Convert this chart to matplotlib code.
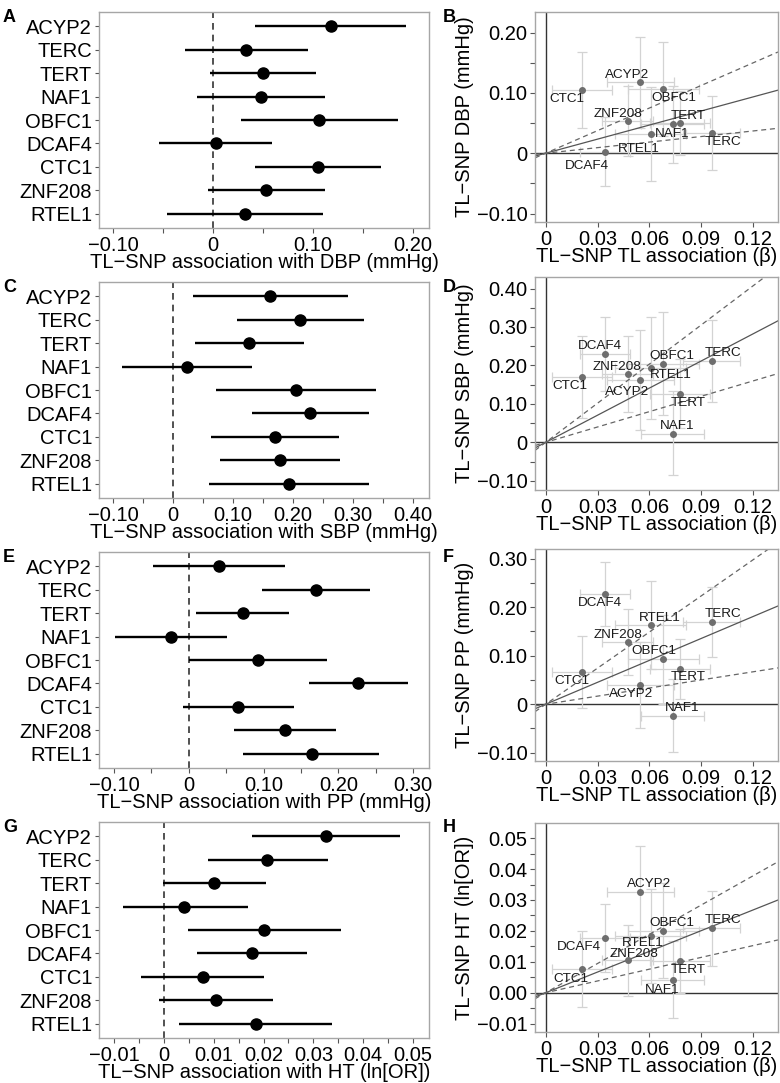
import matplotlib
matplotlib.use("Agg")
import matplotlib.pyplot as plt
import numpy as np

plt.rcParams['font.family'] = ['Liberation Sans', 'DejaVu Sans']

genes = ["ACYP2", "TERC", "TERT", "NAF1", "OBFC1", "DCAF4", "CTC1", "ZNF208", "RTEL1"]

# TL-SNP association with telomere length (beta) and CI half-width
tl_beta = [0.0548, 0.0960, 0.0776, 0.0735, 0.0681, 0.0343, 0.0209, 0.0474, 0.0608]
tl_half = [0.0195, 0.0163, 0.0175, 0.0182, 0.0207, 0.0145, 0.0175, 0.0150, 0.0207]

# DBP
dbp_est = [0.1177, 0.0333, 0.0497, 0.0483, 0.1060, 0.0027, 0.1050, 0.0533, 0.0317]
dbp_lo = [0.0423, -0.0283, -0.0033, -0.0157, 0.0277, -0.0540, 0.0417, -0.0050, -0.0460]
dbp_hi = [0.1930, 0.0950, 0.1027, 0.1120, 0.1850, 0.0593, 0.1680, 0.1117, 0.1100]
# SBP
sbp_est = [0.1622, 0.2117, 0.1267, 0.0228, 0.2044, 0.2289, 0.1706, 0.1789, 0.1933]
sbp_lo = [0.0322, 0.1056, 0.0361, -0.0861, 0.0711, 0.1322, 0.0622, 0.0778, 0.0600]
sbp_hi = [0.2917, 0.3178, 0.2178, 0.1322, 0.3389, 0.3267, 0.2767, 0.2778, 0.3267]
# PP
pp_est = [0.0400, 0.1702, 0.0724, -0.0240, 0.0924, 0.2267, 0.0658, 0.1289, 0.1640]
pp_lo = [-0.0484, 0.0978, 0.0102, -0.0987, 0.0000, 0.1604, -0.0084, 0.0600, 0.0724]
pp_hi = [0.1284, 0.2422, 0.1338, 0.0511, 0.1849, 0.2930, 0.1400, 0.1969, 0.2547]
# HT
ht_est = [0.03253, 0.0208, 0.01013, 0.00413, 0.0200, 0.01767, 0.0078, 0.01053, 0.0184]
ht_lo = [0.01767, 0.0088, -0.0002, -0.00813, 0.00487, 0.00667, -0.00467, -0.0010, 0.00313]
ht_hi = [0.0474, 0.03287, 0.02047, 0.0168, 0.03547, 0.0288, 0.0200, 0.0220, 0.03367]

# MR slopes: estimate, lower, upper
dbp_slope = [0.777, 0.307, 1.247]
sbp_slope = [2.35, 1.33, 3.39]
pp_slope = [1.506, 0.557, 2.48]
ht_slope = [0.223, 0.127, 0.315]

forest_ticks = {
    "DBP": ([-0.10, 0, 0.10, 0.20], ["\u22120.10", "0", "0.10", "0.20"]),
    "SBP": ([-0.10, 0, 0.10, 0.20, 0.30, 0.40], ["\u22120.10", "0", "0.10", "0.20", "0.30", "0.40"]),
    "PP": ([-0.10, 0, 0.10, 0.20, 0.30], ["\u22120.10", "0", "0.10", "0.20", "0.30"]),
    "HT": ([-0.01, 0, 0.01, 0.02, 0.03, 0.04, 0.05], ["\u22120.01", "0", "0.01", "0.02", "0.03", "0.04", "0.05"]),
}
scatter_yticks = {
    "DBP": ([-0.10, 0, 0.10, 0.20], ["\u22120.10", "0", "0.10", "0.20"]),
    "SBP": ([-0.10, 0, 0.10, 0.20, 0.30, 0.40], ["\u22120.10", "0", "0.10", "0.20", "0.30", "0.40"]),
    "PP": ([-0.10, 0, 0.10, 0.20, 0.30], ["\u22120.10", "0", "0.10", "0.20", "0.30"]),
    "HT": ([-0.01, 0, 0.01, 0.02, 0.03, 0.04, 0.05], ["\u22120.01", "0.00", "0.01", "0.02", "0.03", "0.04", "0.05"]),
}
scatter_xticks = ([0, 0.03, 0.06, 0.09, 0.12], ["0", "0.03", "0.06", "0.09", "0.12"])

forest_xlabels = {
    "DBP": "TL\u2212SNP association with DBP (mmHg)",
    "SBP": "TL\u2212SNP association with SBP (mmHg)",
    "PP": "TL\u2212SNP association with PP (mmHg)",
    "HT": "TL\u2212SNP association with HT (ln[OR])",
}
scatter_ylabels = {
    "DBP": "TL\u2212SNP DBP (mmHg)",
    "SBP": "TL\u2212SNP SBP (mmHg)",
    "PP": "TL\u2212SNP PP (mmHg)",
    "HT": "TL\u2212SNP HT (ln[OR])",
}

# layout (pixels)
W, H = 780, 1083
fig = plt.figure(figsize=(W / 100, H / 100), dpi=100)

def add_ax(l, t, r, b):
    return fig.add_axes([l / W, 1 - b / H, (r - l) / W, (b - t) / H])

FRAME = "#a6a6a6"
FS = 14.5

panels = [
    ("DBP", dbp_est, dbp_lo, dbp_hi, dbp_slope, (-0.114, 0.216), (-0.114, 0.234),
     (12, 228), (12, 222), "A", "B"),
    ("SBP", sbp_est, sbp_lo, sbp_hi, sbp_slope, (-0.124, 0.427), (-0.124, 0.43),
     (282, 498), (277, 490), "C", "D"),
    ("PP", pp_est, pp_lo, pp_hi, pp_slope, (-0.12, 0.321), (-0.117, 0.32),
     (552, 768), (549, 761), "E", "F"),
    ("HT", ht_est, ht_lo, ht_hi, ht_slope, (-0.013, 0.0532), (-0.0127, 0.0549),
     (822, 1038), (823, 1032), "G", "H"),
]

# label offsets in pixels (dx, dy up) per panel
label_off = {
    "DBP": {"CTC1": (-15, -9), "ACYP2": (-13, 7), "OBFC1": (10, -9), "ZNF208": (-10, 7),
            "TERT": (8, 7), "NAF1": (-1, -10), "RTEL1": (-12, -15), "TERC": (11, -9),
            "DCAF4": (-18, -14)},
    "SBP": {"DCAF4": (-5, 8), "ZNF208": (-11, 7), "CTC1": (-12, -9), "ACYP2": (-13, -12),
            "OBFC1": (8, 8), "RTEL1": (20, -7), "TERC": (11, 8), "TERT": (8, -9), "NAF1": (4, 8)},
    "PP": {"DCAF4": (-5, -9), "RTEL1": (9, 7), "TERC": (11, 8), "ZNF208": (-10, 7),
           "OBFC1": (-10, 8), "CTC1": (-10, -9), "TERT": (8, -8), "ACYP2": (-9, -9),
           "NAF1": (9, 8)},
    "HT": {"ACYP2": (9, 8), "OBFC1": (8, 8), "TERC": (11, 8), "RTEL1": (-8, -7),
           "DCAF4": (-26, -9), "ZNF208": (6, 6), "TERT": (8, -9), "CTC1": (-11, -10),
           "NAF1": (-11, -10)},
}

def style_frame(ax):
    for s in ax.spines.values():
        s.set_color(FRAME)
        s.set_linewidth(1.0)
    ax.tick_params(colors="#555555", labelcolor="black", labelsize=FS, length=3.5, width=0.8, pad=2)
    ax.tick_params(which="minor", length=3.5, width=0.8, colors="#555555")

for (key, est, lo, hi, slopes, fxlim, sylim, ftb, stb, la, lb) in panels:
    # Forest plot
    ax = add_ax(99, ftb[0], 429, ftb[1])
    ypos = np.arange(len(genes), 0, -1)
    est_a = np.array(est); lo_a = np.array(lo); hi_a = np.array(hi)
    ax.axvline(0, color="#333333", ls=(0, (4, 3)), lw=1.2, zorder=1)
    ax.hlines(ypos, lo_a, hi_a, color="black", lw=1.7, zorder=2)
    ax.plot(est_a, ypos, "o", color="black", ms=8, zorder=3)
    ax.set_ylim(0.4, len(genes) + 0.6)
    ax.set_yticks(ypos)
    ax.set_yticklabels(genes)
    ax.set_xlim(*fxlim)
    t, tl = forest_ticks[key]
    ax.set_xticks(t)
    ax.set_xticklabels(tl)
    ax.set_xticks([(t[i] + t[i + 1]) / 2 for i in range(len(t) - 1)], minor=True)
    ax.set_xlabel(forest_xlabels[key], fontsize=FS, labelpad=-1)
    style_frame(ax)
    ax.tick_params(axis="y", length=3)
    fig.text(3 / W, 1 - (ftb[0] + 5) / H, la, fontsize=13, fontweight="bold", va="center", ha="left")

    # Scatter plot
    ax2 = add_ax(535, stb[0], 778, stb[1])
    xb = np.array(tl_beta); xh = np.array(tl_half)
    ax2.set_xlim(-0.0062, 0.1345)
    ax2.set_ylim(*sylim)
    ax2.axhline(0, color="#333333", lw=1.0, zorder=1)
    ax2.axvline(0, color="#333333", lw=1.0, zorder=1)
    xl = np.array(ax2.get_xlim())
    ax2.plot(xl, slopes[0] * xl, color="#555555", lw=0.9, zorder=2)
    ax2.plot(xl, slopes[1] * xl, color="#666666", lw=0.9, ls=(0, (4, 3)), zorder=2)
    ax2.plot(xl, slopes[2] * xl, color="#666666", lw=0.9, ls=(0, (4, 3)), zorder=2)
    ax2.errorbar(xb, est_a, yerr=[est_a - lo_a, hi_a - est_a], xerr=xh, fmt="none",
                 ecolor="#d3d3d3", elinewidth=0.9, capsize=3.5, capthick=0.9, zorder=1.5)
    ax2.plot(xb, est_a, "o", color="#6e6e6e", ms=4, zorder=3)
    offs = label_off[key]
    for g, x, y in zip(genes, xb, est_a):
        dx, dy = offs[g]
        ax2.annotate(g, (x, y), xytext=(dx * 0.72, dy * 0.72), textcoords="offset points",
                     ha="center", va="center", fontsize=9.7, color="#1a1a1a", zorder=4)
    ax2.set_xticks(scatter_xticks[0])
    ax2.set_xticklabels(scatter_xticks[1])
    yt, ytl = scatter_yticks[key]
    ax2.set_yticks(yt)
    ax2.set_yticklabels(ytl)
    ax2.set_yticks([(yt[i] + yt[i + 1]) / 2 for i in range(len(yt) - 1)], minor=True)
    ax2.set_xlabel("TL\u2212SNP TL association (\u03b2)", fontsize=FS, labelpad=-1)
    ax2.set_ylabel(scatter_ylabels[key], fontsize=FS, labelpad=2)
    style_frame(ax2)
    fig.text(443 / W, 1 - (ftb[0] + 5) / H, lb, fontsize=13, fontweight="bold", va="center", ha="left")

fig.savefig("out.png", dpi=100)
